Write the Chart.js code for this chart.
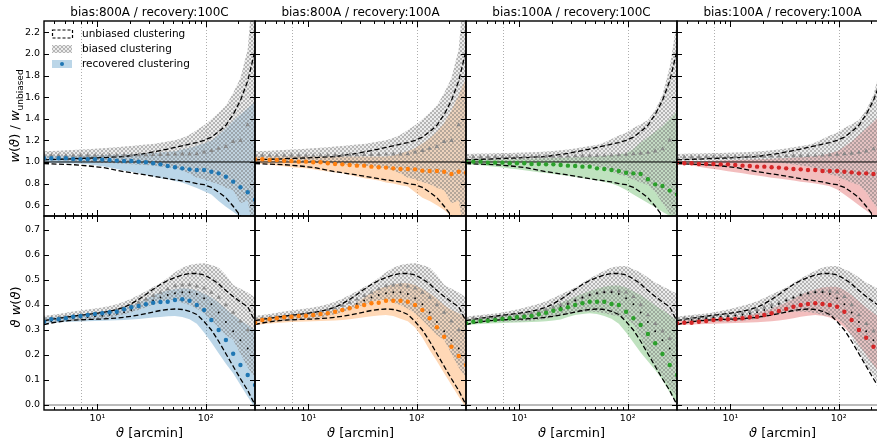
<!DOCTYPE html>
<html>
<head>
<meta charset="utf-8">
<script src="https://cdn.jsdelivr.net/npm/chart.js@4.4.0/dist/chart.umd.min.js"></script>
<style>
html, body { margin: 0; padding: 0; background: #fff; overflow: hidden; }
#fig { position: relative; width: 900px; height: 444px; font-family: 'DejaVu Sans', sans-serif; color: #000; }
#fig canvas { position: absolute; }
.lbl { position: absolute; white-space: nowrap; transform: translate(-50%, -50%); }
.rot { transform: translate(-50%, -50%) rotate(-90deg); }
</style>
</head>
<body>
<div id="fig"></div>
<script>
// angular bins (arcmin)
const theta = [3.21, 3.75, 4.38, 5.11, 5.97, 6.97, 8.13, 9.49, 11.08, 12.94,
  15.10, 17.63, 20.58, 24.02, 28.04, 32.73, 38.21, 44.60, 52.07, 60.78,
  70.95, 82.82, 96.68, 112.9, 131.8, 153.8, 179.5, 209.6, 244.6, 285.6];

const titles = ['bias:800A / recovery:100C', 'bias:800A / recovery:100A',
  'bias:100A / recovery:100C', 'bias:100A / recovery:100A'];
const colors = ['#1f77b4', '#ff7f0e', '#2ca02c', '#d62728'];
const legendLabels = ['unbiased clustering', 'biased clustering', 'recovered clustering'];

const yTicksTop = [0.6, 0.8, 1.0, 1.2, 1.4, 1.6, 1.8, 2.0, 2.2];
const yTicksBot = [0.0, 0.1, 0.2, 0.3, 0.4, 0.5, 0.6, 0.7];
const xTicks = [10, 100];
const xMinor = [4, 5, 6, 7, 8, 9, 20, 30, 40, 50, 60, 70, 80, 90, 200];
const vlines = [7, 100];

// unbiased (dashed)
const unbTopHi = [1.02, 1.022, 1.025, 1.027, 1.03, 1.033, 1.035, 1.037, 1.04, 1.043,
  1.047, 1.05, 1.06, 1.07, 1.08, 1.093, 1.106, 1.12, 1.135, 1.15,
  1.165, 1.18, 1.20, 1.23, 1.28, 1.34, 1.44, 1.57, 1.75, 2.03];
const unbTopLo = [0.985, 0.983, 0.98, 0.978, 0.975, 0.97, 0.964, 0.957, 0.95, 0.937,
  0.923, 0.91, 0.90, 0.89, 0.88, 0.868, 0.857, 0.845, 0.835, 0.825,
  0.815, 0.80, 0.79, 0.765, 0.72, 0.67, 0.59, 0.50, 0.40, 0.25];
const unbBotHi = [0.338, 0.342, 0.347, 0.351, 0.355, 0.359, 0.362, 0.366, 0.370, 0.375,
  0.382, 0.391, 0.405, 0.422, 0.442, 0.463, 0.482, 0.498, 0.510, 0.520,
  0.526, 0.526, 0.520, 0.505, 0.484, 0.458, 0.434, 0.412, 0.393, 0.335];
const unbBotLo = [0.322, 0.328, 0.333, 0.336, 0.339, 0.341, 0.342, 0.343, 0.344, 0.346,
  0.348, 0.351, 0.355, 0.360, 0.366, 0.372, 0.378, 0.382, 0.384, 0.382,
  0.375, 0.362, 0.334, 0.300, 0.255, 0.205, 0.155, 0.105, 0.058, 0.0];
const unbBotMean = [0.33, 0.335, 0.34, 0.344, 0.347, 0.35, 0.352, 0.355, 0.357, 0.361,
  0.365, 0.371, 0.38, 0.391, 0.404, 0.418, 0.43, 0.44, 0.447, 0.451,
  0.451, 0.444, 0.427, 0.403, 0.37, 0.332, 0.295, 0.259, 0.226, 0.168];

// biased (grey hatch + triangles)
const b800TopMean = [1.06, 1.06, 1.06, 1.06, 1.06, 1.06, 1.06, 1.06, 1.06, 1.062,
  1.062, 1.063, 1.064, 1.065, 1.066, 1.067, 1.068, 1.07, 1.071, 1.072,
  1.073, 1.075, 1.09, 1.105, 1.125, 1.142, 1.188, 1.198, 1.343, 1.55];
const b800TopErr = [0.04, 0.042, 0.045, 0.048, 0.052, 0.055, 0.058, 0.062, 0.066, 0.07,
  0.075, 0.08, 0.085, 0.09, 0.095, 0.10, 0.11, 0.12, 0.13, 0.15,
  0.18, 0.22, 0.25, 0.29, 0.33, 0.38, 0.45, 0.58, 0.70, 1.3];
const b100TopMean = [1.045, 1.045, 1.046, 1.046, 1.047, 1.047, 1.048, 1.048, 1.049, 1.05,
  1.05, 1.051, 1.052, 1.053, 1.054, 1.055, 1.056, 1.057, 1.058, 1.06,
  1.062, 1.065, 1.07, 1.075, 1.08, 1.088, 1.10, 1.12, 1.20, 1.40];
const b100TopErr = [0.03, 0.031, 0.032, 0.033, 0.034, 0.035, 0.036, 0.037, 0.038, 0.04,
  0.042, 0.045, 0.05, 0.055, 0.062, 0.07, 0.08, 0.09, 0.10, 0.12,
  0.15, 0.18, 0.20, 0.24, 0.27, 0.30, 0.38, 0.50, 0.68, 0.90];
const b800BotMean = [0.345, 0.347, 0.349, 0.352, 0.355, 0.358, 0.361, 0.364, 0.368, 0.373,
  0.38, 0.388, 0.398, 0.41, 0.423, 0.437, 0.45, 0.464, 0.476, 0.479,
  0.48, 0.475, 0.467, 0.45, 0.43, 0.40, 0.37, 0.335, 0.30, 0.27];
const b800BotErr = [0.012, 0.013, 0.015, 0.017, 0.019, 0.02, 0.021, 0.022, 0.022, 0.023,
  0.023, 0.025, 0.027, 0.03, 0.032, 0.035, 0.037, 0.045, 0.055, 0.07,
  0.08, 0.09, 0.10, 0.11, 0.12, 0.12, 0.11, 0.13, 0.15, 0.16];
const b100BotMean = [0.345, 0.347, 0.348, 0.349, 0.35, 0.352, 0.355, 0.358, 0.362, 0.367,
  0.373, 0.38, 0.39, 0.40, 0.41, 0.42, 0.43, 0.44, 0.447, 0.452,
  0.455, 0.455, 0.451, 0.433, 0.40, 0.36, 0.325, 0.295, 0.265, 0.24];
const b100BotErr = [0.008, 0.01, 0.012, 0.014, 0.016, 0.018, 0.021, 0.024, 0.027, 0.03,
  0.032, 0.035, 0.038, 0.042, 0.046, 0.05, 0.058, 0.066, 0.075, 0.085,
  0.095, 0.10, 0.105, 0.11, 0.13, 0.15, 0.165, 0.18, 0.195, 0.205];

// recovered, ratio row
const blueTop = [1.034, 1.034, 1.034, 1.034, 1.028, 1.025, 1.025, 1.025, 1.022, 1.019,
  1.013, 1.009, 1.009, 1.003, 0.997, 0.988, 0.978, 0.963, 0.951, 0.941,
  0.932, 0.926, 0.926, 0.91, 0.895, 0.864, 0.818, 0.766, 0.72, 0.65];
const blueTopHi = [1.06, 1.06, 1.06, 1.06, 1.06, 1.06, 1.06, 1.062, 1.064, 1.066,
  1.068, 1.07, 1.072, 1.075, 1.078, 1.082, 1.088, 1.095, 1.10, 1.115,
  1.13, 1.15, 1.17, 1.20, 1.25, 1.31, 1.38, 1.44, 1.50, 1.56];
const blueTopLo = [0.994, 0.992, 0.99, 0.988, 0.986, 0.984, 0.978, 0.97, 0.96, 0.95,
  0.935, 0.92, 0.91, 0.895, 0.88, 0.865, 0.85, 0.84, 0.825, 0.81,
  0.785, 0.759, 0.73, 0.698, 0.64, 0.586, 0.54, 0.49, 0.4, 0.3];
const orangeTop = [1.025, 1.025, 1.019, 1.019, 1.012, 1.009, 1.003, 1.003, 0.997, 0.997,
  0.988, 0.982, 0.978, 0.972, 0.966, 0.966, 0.957, 0.951, 0.948, 0.941,
  0.935, 0.935, 0.932, 0.92, 0.917, 0.917, 0.91, 0.889, 0.91, 0.90];
const orangeTopHi = [1.05, 1.05, 1.05, 1.05, 1.05, 1.05, 1.05, 1.05, 1.05, 1.05,
  1.05, 1.05, 1.05, 1.05, 1.05, 1.05, 1.05, 1.05, 1.05, 1.06,
  1.08, 1.10, 1.13, 1.17, 1.22, 1.28, 1.36, 1.48, 1.62, 1.78];
const orangeTopLo = [0.988, 0.982, 0.975, 0.968, 0.96, 0.952, 0.946, 0.941, 0.932, 0.922,
  0.912, 0.902, 0.895, 0.88, 0.865, 0.85, 0.84, 0.828, 0.81, 0.80,
  0.785, 0.772, 0.72, 0.67, 0.64, 0.60, 0.556, 0.494, 0.42, 0.35];
const greenTop = [1.003, 1.003, 1.003, 0.994, 0.994, 0.994, 0.988, 0.988, 0.988, 0.982,
  0.982, 0.978, 0.978, 0.972, 0.966, 0.963, 0.957, 0.957, 0.941, 0.935,
  0.926, 0.917, 0.901, 0.895, 0.889, 0.84, 0.793, 0.778, 0.735, 0.70];
const greenTopHi = [1.025, 1.025, 1.025, 1.025, 1.025, 1.025, 1.025, 1.027, 1.029, 1.031,
  1.033, 1.035, 1.037, 1.039, 1.041, 1.043, 1.045, 1.048, 1.052, 1.058,
  1.065, 1.072, 1.08, 1.12, 1.18, 1.23, 1.28, 1.33, 1.40, 1.47];
const greenTopLo = [0.98, 0.975, 0.97, 0.963, 0.956, 0.948, 0.94, 0.932, 0.924, 0.915,
  0.905, 0.897, 0.889, 0.88, 0.87, 0.86, 0.85, 0.84, 0.828, 0.815,
  0.80, 0.775, 0.74, 0.70, 0.66, 0.62, 0.58, 0.54, 0.50, 0.45];
const redTop = [0.994, 0.988, 0.988, 0.981, 0.981, 0.981, 0.978, 0.978, 0.972, 0.966,
  0.963, 0.957, 0.957, 0.951, 0.948, 0.941, 0.935, 0.932, 0.926, 0.926,
  0.917, 0.917, 0.917, 0.91, 0.904, 0.895, 0.895, 0.889, 0.88, 0.87];
const redTopHi = [1.01, 1.01, 1.01, 1.01, 1.01, 1.012, 1.014, 1.016, 1.018, 1.02,
  1.022, 1.025, 1.028, 1.031, 1.034, 1.037, 1.04, 1.044, 1.048, 1.055,
  1.065, 1.08, 1.10, 1.14, 1.19, 1.25, 1.31, 1.37, 1.44, 1.52];
const redTopLo = [0.99, 0.98, 0.97, 0.955, 0.945, 0.935, 0.925, 0.915, 0.905, 0.895,
  0.885, 0.875, 0.865, 0.855, 0.848, 0.838, 0.828, 0.818, 0.81, 0.80,
  0.79, 0.775, 0.745, 0.70, 0.65, 0.60, 0.55, 0.50, 0.45, 0.40];

// recovered, theta*w(theta) row
const blueBot = [0.333, 0.343, 0.343, 0.347, 0.353, 0.356, 0.36, 0.364, 0.367, 0.371,
  0.373, 0.383, 0.391, 0.396, 0.403, 0.409, 0.412, 0.413, 0.42, 0.423,
  0.417, 0.40, 0.38, 0.34, 0.30, 0.26, 0.205, 0.16, 0.12, 0.08];
const blueBotHi = [0.35, 0.352, 0.354, 0.356, 0.358, 0.36, 0.363, 0.366, 0.37, 0.375,
  0.382, 0.39, 0.398, 0.41, 0.425, 0.44, 0.45, 0.458, 0.463, 0.467,
  0.465, 0.458, 0.445, 0.43, 0.41, 0.385, 0.36, 0.34, 0.32, 0.30];
const blueBotLo = [0.325, 0.328, 0.33, 0.332, 0.333, 0.334, 0.335, 0.336, 0.337, 0.338,
  0.339, 0.34, 0.342, 0.344, 0.347, 0.35, 0.352, 0.355, 0.356, 0.352,
  0.343, 0.325, 0.29, 0.25, 0.207, 0.165, 0.127, 0.08, 0.033, -0.01];
const orangeBot = [0.329, 0.34, 0.343, 0.347, 0.351, 0.353, 0.356, 0.357, 0.36, 0.364,
  0.367, 0.373, 0.38, 0.387, 0.393, 0.40, 0.407, 0.409, 0.417, 0.417,
  0.417, 0.413, 0.40, 0.38, 0.347, 0.311, 0.273, 0.233, 0.196, 0.16];
const orangeBotHi = [0.347, 0.35, 0.353, 0.356, 0.359, 0.362, 0.364, 0.366, 0.367, 0.37,
  0.374, 0.38, 0.386, 0.393, 0.41, 0.43, 0.45, 0.465, 0.475, 0.482,
  0.487, 0.487, 0.48, 0.465, 0.447, 0.425, 0.40, 0.38, 0.367, 0.35];
const orangeBotLo = [0.32, 0.323, 0.326, 0.328, 0.33, 0.332, 0.333, 0.334, 0.335, 0.336,
  0.337, 0.338, 0.34, 0.343, 0.347, 0.351, 0.355, 0.358, 0.36, 0.356,
  0.345, 0.335, 0.31, 0.27, 0.22, 0.175, 0.127, 0.08, 0.033, -0.01];
const greenBot = [0.327, 0.333, 0.336, 0.337, 0.34, 0.344, 0.347, 0.351, 0.353, 0.356,
  0.363, 0.369, 0.377, 0.383, 0.391, 0.40, 0.407, 0.413, 0.413, 0.413,
  0.404, 0.40, 0.373, 0.347, 0.32, 0.284, 0.247, 0.204, 0.16, 0.12];
const greenBotHi = [0.343, 0.346, 0.349, 0.352, 0.354, 0.356, 0.36, 0.364, 0.368, 0.372,
  0.378, 0.386, 0.396, 0.408, 0.42, 0.433, 0.445, 0.456, 0.465, 0.473,
  0.478, 0.478, 0.47, 0.455, 0.44, 0.42, 0.398, 0.38, 0.36, 0.34];
const greenBotLo = [0.32, 0.322, 0.324, 0.326, 0.327, 0.328, 0.329, 0.33, 0.331, 0.332,
  0.333, 0.335, 0.338, 0.342, 0.352, 0.36, 0.364, 0.367, 0.364, 0.356,
  0.345, 0.325, 0.29, 0.25, 0.21, 0.175, 0.14, 0.10, 0.05, 0.005];
const redBot = [0.327, 0.329, 0.329, 0.333, 0.336, 0.34, 0.343, 0.343, 0.344, 0.347,
  0.351, 0.353, 0.36, 0.367, 0.376, 0.384, 0.393, 0.40, 0.404, 0.407,
  0.404, 0.40, 0.393, 0.373, 0.34, 0.30, 0.269, 0.233, 0.20, 0.165];
const redBotHi = [0.337, 0.339, 0.341, 0.343, 0.345, 0.346, 0.347, 0.35, 0.353, 0.357,
  0.362, 0.368, 0.376, 0.386, 0.398, 0.41, 0.425, 0.44, 0.453, 0.462,
  0.47, 0.473, 0.473, 0.46, 0.44, 0.415, 0.39, 0.367, 0.35, 0.33];
const redBotLo = [0.32, 0.321, 0.322, 0.323, 0.324, 0.325, 0.326, 0.327, 0.328, 0.329,
  0.33, 0.331, 0.333, 0.335, 0.338, 0.342, 0.347, 0.353, 0.357, 0.36,
  0.357, 0.35, 0.335, 0.31, 0.28, 0.24, 0.20, 0.16, 0.12, 0.08];

const biasSets = {
  b800: { top: [b800TopMean, b800TopErr], bot: [b800BotMean, b800BotErr] },
  b100: { top: [b100TopMean, b100TopErr], bot: [b100BotMean, b100BotErr] }
};
const columns = [
  { bias: 'b800', top: [blueTop, blueTopLo, blueTopHi], bot: [blueBot, blueBotLo, blueBotHi] },
  { bias: 'b800', top: [orangeTop, orangeTopLo, orangeTopHi], bot: [orangeBot, orangeBotLo, orangeBotHi] },
  { bias: 'b100', top: [greenTop, greenTopLo, greenTopHi], bot: [greenBot, greenBotLo, greenBotHi] },
  { bias: 'b100', top: [redTop, redTopLo, redTopHi], bot: [redBot, redBotLo, redBotHi] }
];

// layout of the 2x4 grid (page pixels)
const colX = [44, 255, 466, 677];
const panelW = 211;
const rowY = [21, 216];
const rowH = [195, 194];
const FONT = "'DejaVu Sans', sans-serif";

const fig = document.getElementById('fig');

function hatchPattern() {
    const c = document.createElement('canvas');
    c.width = 4; c.height = 4;
    const g = c.getContext('2d');
    g.fillStyle = 'rgba(200,200,200,0.35)';
    g.fillRect(0, 0, 4, 4);
    g.strokeStyle = 'rgba(110,110,110,0.55)';
    g.lineWidth = 0.8;
    g.beginPath();
    g.moveTo(0, 0); g.lineTo(4, 4);
    g.moveTo(0, 4); g.lineTo(4, 0);
    g.stroke();
    return g.createPattern(c, 'repeat');
}
const hatch = hatchPattern();

function fade(hex, a) {
    const n = parseInt(hex.slice(1), 16);
    return `rgba(${n >> 16},${(n >> 8) & 255},${n & 255},${a})`;
}

// dotted guide lines, inward ticks on all four sides, black frame
const framePlugin = {
    id: 'frame',
    beforeDatasetsDraw(chart) {
        const { ctx, chartArea: a, scales: { x } } = chart;
        ctx.save();
        ctx.strokeStyle = '#999';
        ctx.lineWidth = 0.8;
        ctx.setLineDash([1, 2]);
        vlines.forEach(v => {
            const px = Math.round(x.getPixelForValue(v)) + 0.5;
            ctx.beginPath(); ctx.moveTo(px, a.top); ctx.lineTo(px, a.bottom); ctx.stroke();
        });
        ctx.restore();
    },
    afterDatasetsDraw(chart, args, opts) {
        const { ctx, chartArea: a, scales: { x, y } } = chart;
        ctx.save();
        ctx.strokeStyle = '#000';
        ctx.lineWidth = 1;
        const tick = (x1, y1, x2, y2) => { ctx.beginPath(); ctx.moveTo(x1, y1); ctx.lineTo(x2, y2); ctx.stroke(); };
        opts.yMajor.forEach(v => {
            const py = Math.round(y.getPixelForValue(v)) + 0.5;
            tick(a.left, py, a.left + 5, py);
            tick(a.right, py, a.right - 5, py);
        });
        xTicks.forEach(v => {
            const px = Math.round(x.getPixelForValue(v)) + 0.5;
            tick(px, a.bottom, px, a.bottom - 6);
            tick(px, a.top, px, a.top + 6);
        });
        xMinor.forEach(v => {
            const px = Math.round(x.getPixelForValue(v)) + 0.5;
            tick(px, a.bottom, px, a.bottom - 3);
            tick(px, a.top, px, a.top + 3);
        });
        ctx.lineWidth = 1.4;
        ctx.strokeRect(a.left, a.top, a.right - a.left, a.bottom - a.top);
        ctx.restore();
    }
};

// legend box of the first panel
const keyPlugin = {
    id: 'keyBox',
    afterDatasetsDraw(chart, args, opts) {
        if (!opts.show) return;
        const { ctx, chartArea: a } = chart;
        const x0 = a.left + 8, w = 20, h = 8;
        const rows = [a.top + 13, a.top + 28, a.top + 43];
        ctx.save();
        // unbiased: dashed outline
        ctx.strokeStyle = '#000';
        ctx.lineWidth = 1.2;
        ctx.setLineDash([3, 2]);
        ctx.strokeRect(x0 + 0.5, rows[0] - h / 2, w, h);
        ctx.setLineDash([]);
        // biased: hatch
        ctx.fillStyle = hatch;
        ctx.fillRect(x0, rows[1] - h / 2, w, h);
        // recovered: band + dot
        ctx.fillStyle = fade(colors[0], 0.3);
        ctx.fillRect(x0, rows[2] - h / 2, w, h);
        ctx.fillStyle = colors[0];
        ctx.beginPath(); ctx.arc(x0 + w / 2, rows[2], 2, 0, Math.PI * 2); ctx.fill();
        ctx.fillStyle = '#000';
        ctx.font = `10.5px ${FONT}`;
        ctx.textBaseline = 'middle';
        legendLabels.forEach((t, i) => ctx.fillText(t, a.left + 38, rows[i] + 0.5));
        ctx.restore();
    }
};

function makeChart(r, c) {
    const top = r === 0;
    const col = columns[c];
    const L = c === 0 ? 44 : 4, R = 4, T = 4, B = top ? 4 : 34;
    const w = panelW + L + R, h = rowH[r] + T + B;
    const cv = document.createElement('canvas');
    cv.width = w; cv.height = h;
    cv.style.left = (colX[c] - L) + 'px';
    cv.style.top = (rowY[r] - T) + 'px';
    cv.style.width = w + 'px';
    cv.style.height = h + 'px';
    fig.appendChild(cv);

    const pts = arr => arr.map((v, i) => ({ x: theta[i], y: v }));
    const [rm, rlo, rhi] = top ? col.top : col.bot;
    const [bm, be] = biasSets[col.bias][top ? 'top' : 'bot'];
    const ref = top ? 1 : 0;
    const band = { borderColor: 'transparent', pointRadius: 0, tension: 0 };
    const dash = { borderColor: '#000', borderWidth: 1.3, borderDash: [5, 2.5], pointRadius: 0, fill: false };

    const datasets = [
        { ...band, data: pts(rhi), fill: '+1', backgroundColor: fade(colors[c], 0.3), order: 10 },
        { ...band, data: pts(rlo), fill: false, order: 10 },
        { ...band, data: pts(bm.map((v, i) => v + be[i])), fill: '+1', backgroundColor: hatch, order: 9 },
        { ...band, data: pts(bm.map((v, i) => v - be[i])), fill: false, order: 9 },
        { ...dash, data: pts(top ? unbTopHi : unbBotHi), order: 5 },
        { ...dash, data: pts(top ? unbTopLo : unbBotLo), order: 5 },
        { data: [{ x: theta[0], y: ref }, { x: theta[theta.length - 1], y: ref }], fill: false, pointRadius: 0,
          borderColor: top ? '#000' : '#bbb', borderWidth: top ? 1 : 2, order: top ? 4 : 11 },
        { data: pts(bm), showLine: false, fill: false, pointStyle: 'triangle', pointRadius: 2.6,
          backgroundColor: '#888', borderColor: '#888', borderWidth: 0, order: 3 }
    ];
    if (!top) {
        datasets.push({ data: pts(unbBotMean), showLine: false, fill: false, pointRadius: 0.9,
            backgroundColor: '#000', borderColor: '#000', borderWidth: 0, order: 2 });
    }
    datasets.push({ data: pts(rm), showLine: false, fill: false, pointRadius: 2.2,
        backgroundColor: colors[c], borderColor: colors[c], borderWidth: 0, order: 1 });

    new Chart(cv, {
        type: 'line',
        data: { datasets },
        options: {
            responsive: false,
            animation: false,
            events: [],
            layout: { padding: { left: c === 0 ? 0 : 4, right: R, top: T, bottom: top ? 4 : 0 } },
            plugins: {
                legend: { display: false },
                tooltip: { enabled: false },
                frame: { yMajor: top ? yTicksTop : yTicksBot },
                keyBox: { show: top && c === 0 }
            },
            scales: {
                x: {
                    type: 'logarithmic',
                    min: theta[0],
                    max: theta[theta.length - 1],
                    display: !top,
                    grid: { display: false, drawTicks: false },
                    border: { display: false },
                    ticks: {
                        font: { family: FONT, size: 9.5 }, color: '#000', padding: 3,
                        autoSkip: false, maxRotation: 0,
                        callback: v => v === 10 ? '10\u00b9' : v === 100 ? '10\u00b2' : ''
                    },
                    afterBuildTicks: s => { s.ticks = xTicks.map(v => ({ value: v })); },
                    afterFit: s => {
                        if (!top) s.height = 34;
                        s.paddingLeft = 0; s.paddingRight = 0;
                    }
                },
                y: {
                    type: 'linear',
                    min: top ? 0.5 : -0.02,
                    max: top ? 2.305 : 0.756,
                    display: c === 0,
                    grid: { display: false, drawTicks: false },
                    border: { display: false },
                    ticks: {
                        font: { family: FONT, size: 9.5 }, color: '#000', padding: 4,
                        callback: v => Number(v).toFixed(1)
                    },
                    afterBuildTicks: s => { s.ticks = (top ? yTicksTop : yTicksBot).map(v => ({ value: v })); },
                    afterFit: s => {
                        if (c === 0) s.width = 44;
                        s.paddingTop = 0; s.paddingBottom = 0;
                    }
                }
            }
        },
        plugins: [framePlugin, keyPlugin]
    });
}

function addLabel(html, x, y, size, cls) {
    const d = document.createElement('div');
    d.className = 'lbl' + (cls ? ' ' + cls : '');
    d.style.left = x + 'px';
    d.style.top = y + 'px';
    d.style.fontSize = size + 'px';
    d.innerHTML = html;
    fig.appendChild(d);
}

for (let r = 0; r < 2; r++) {
    for (let c = 0; c < 4; c++) makeChart(r, c);
}
titles.forEach((t, c) => {
    addLabel(t, colX[c] + panelW / 2, 12, 12);
    addLabel('<i>\u03d1</i> [arcmin]', colX[c] + panelW / 2, 432, 13);
});
addLabel('<i>w</i>(<i>\u03d1</i>) / <i>w</i><sub style="font-size:9px">unbiased</sub>', 16, 116, 13, 'rot');
addLabel('<i>\u03d1</i> <i>w</i>(<i>\u03d1</i>)', 15, 307, 13, 'rot');
</script>
</body>
</html>
